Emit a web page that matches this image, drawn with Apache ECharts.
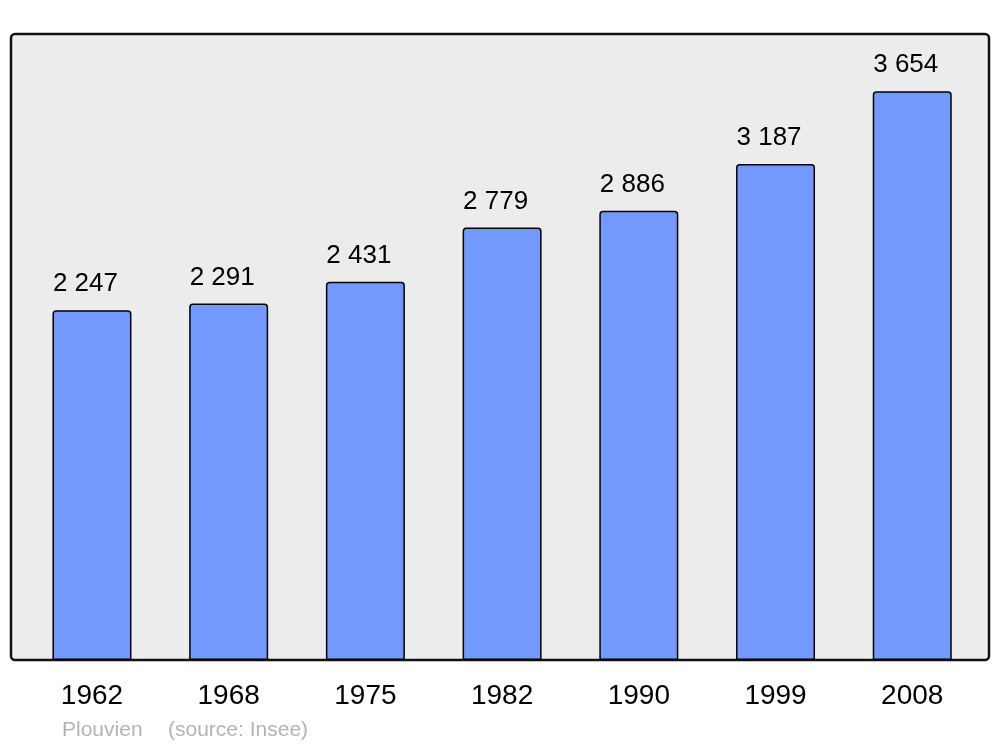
<!DOCTYPE html>
<html>
<head>
<meta charset="utf-8">
<script src="https://cdn.jsdelivr.net/npm/echarts@6/dist/echarts.min.js"></script>
<style>
html,body{margin:0;padding:0;background:#fff;}
#c{width:1000px;height:747px;}
</style>
</head>
<body>
<div id="c"></div>
<script>
const years = ['1962','1968','1975','1982','1990','1999','2008'];
const population = [2247, 2291, 2431, 2779, 2886, 3187, 3654];
const placeName = 'Plouvien';
const sourceText = '(source: Insee)';

function fmt(v){
  return String(v).replace(/\B(?=(\d{3})+(?!\d))/g, ' ');
}

const chart = echarts.init(document.getElementById('c'), null, {renderer:'canvas'});
chart.setOption({
  animation: false,
  backgroundColor: '#ffffff',
  textStyle: {fontFamily: 'Liberation Sans, Arial, sans-serif'},
  graphic: [
    {
      type: 'rect', z: 0,
      shape: {x: 11, y: 34, width: 978, height: 626, r: 4},
      style: {fill: '#ececec', stroke: '#111111', lineWidth: 2.5}
    },
    {
      type: 'text', z: 5, left: 62, top: 720,
      style: {text: placeName, fill: '#b3b3b3', font: '21px "Liberation Sans", Arial, sans-serif'}
    },
    {
      type: 'text', z: 5, left: 168, top: 720,
      style: {text: sourceText, fill: '#b3b3b3', font: '21px "Liberation Sans", Arial, sans-serif'}
    }
  ],
  grid: {left: 23.6, right: 19.4, top: 34, bottom: 87, containLabel: false},
  xAxis: {
    type: 'category',
    data: years,
    axisLine: {show: false},
    axisTick: {show: false},
    splitLine: {show: false},
    axisLabel: {
      color: '#000', fontSize: 28, margin: 22,
      fontFamily: 'Liberation Sans, Arial, sans-serif'
    }
  },
  yAxis: {
    type: 'value', min: 0, max: 4022, show: false,
    splitLine: {show: false}
  },
  series: [{
    type: 'bar',
    data: population,
    barWidth: 79,
    z: 2,
    itemStyle: {color: '#7399ff', borderColor: '#000', borderWidth: 1.5, borderRadius: [3,3,0,0]},
    label: {
      show: true, position: 'top', distance: 13, offset: [-6.5, 0],
      color: '#000', fontSize: 26,
      fontFamily: 'Liberation Sans, Arial, sans-serif',
      formatter: p => fmt(p.value)
    }
  }]
});
</script>
</body>
</html>
